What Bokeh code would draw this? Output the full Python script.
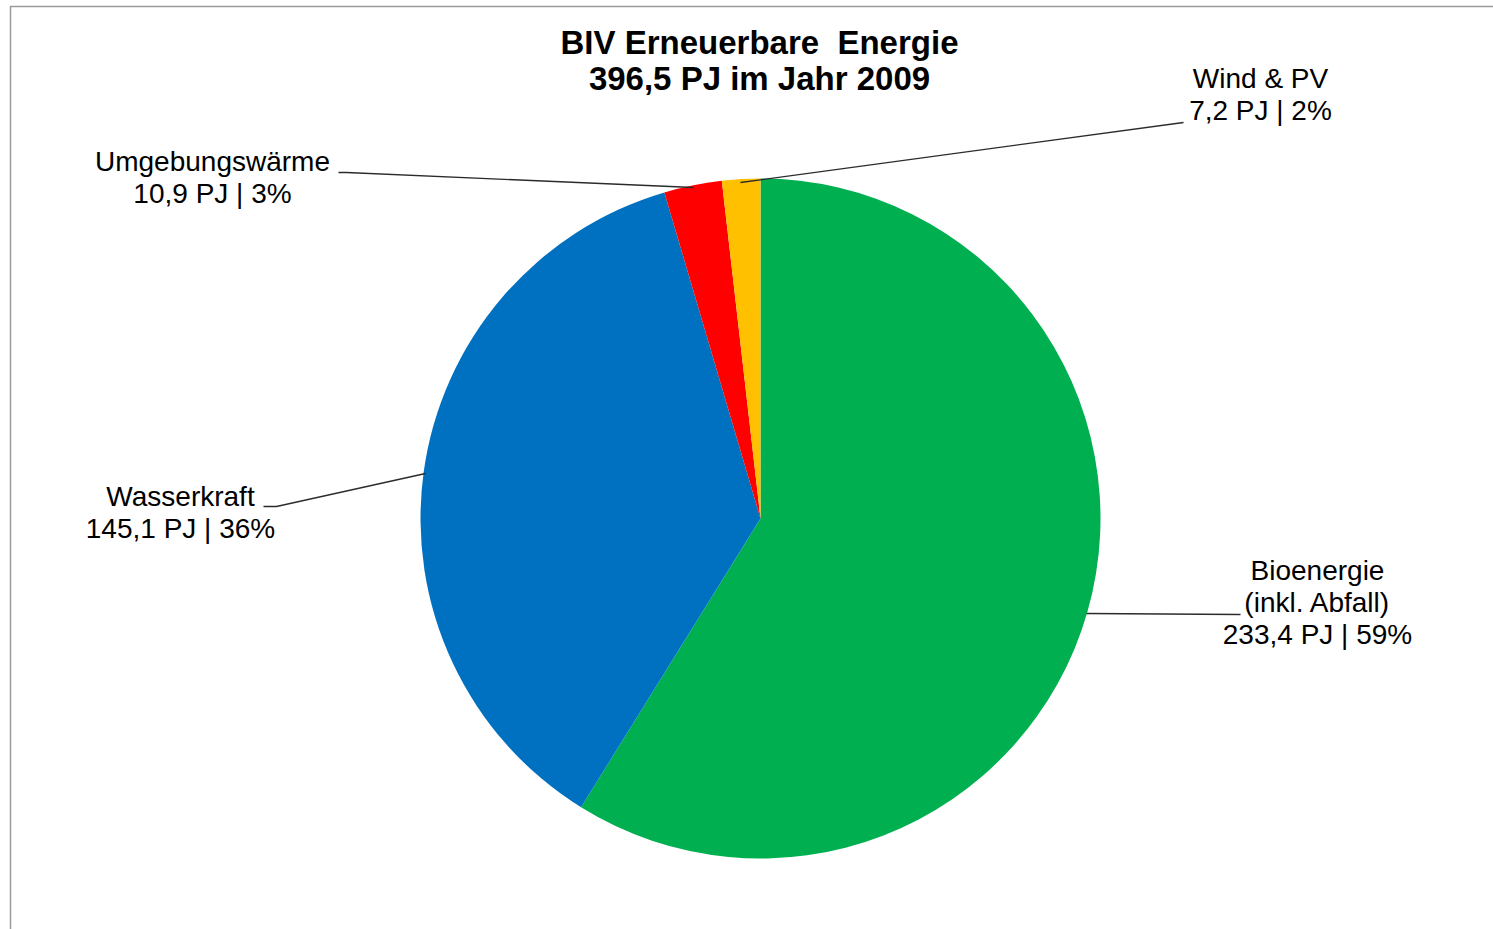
import math
from bokeh.plotting import figure
from bokeh.models import Range1d, ColumnDataSource
from bokeh.core.properties import value
from bokeh.embed import file_html
from bokeh.resources import INLINE

# Renewable energy by source, Austria 2009 (PJ)
categories = ["Bioenergie\n(inkl. Abfall)", "Wasserkraft", "Umgebungswärme", "Wind & PV"]
energy_pj = [233.4, 145.1, 10.9, 7.2]
energy_text = ["233,4", "145,1", "10,9", "7,2"]
share_pct = [59, 36, 3, 2]
colors = ["#00B050", "#0070C0", "#FF0000", "#FFC000"]

title_lines = ["BIV Erneuerbare\u00a0 Energie", "396,5 PJ im Jahr 2009"]

W, H = 1493, 929
FONT = "Liberation Sans"


def Y(py):
    # convert a pixel row (from the top) into the plot's y coordinate
    return H - py


p = figure(width=W, height=H, output_backend="svg", toolbar_location=None,
           x_range=Range1d(0, W), y_range=Range1d(0, H), min_border=0)
p.axis.visible = False
p.grid.visible = False
p.outline_line_color = None
p.background_fill_color = "white"
p.border_fill_color = "white"

# chart frame (top and left edges visible)
p.line([10, 10, W + 5], [Y(H + 5), Y(6), Y(6)], line_color="#9a9a9a", line_width=1.5)

# pie slices, clockwise from 12 o'clock
total = sum(energy_pj)
starts, ends = [], []
acc = 0.0
for v in energy_pj:
    starts.append(math.pi / 2 - 2 * math.pi * acc / total)
    acc += v
    ends.append(math.pi / 2 - 2 * math.pi * acc / total)

cx, cy, r = 760, Y(518), 340
src = ColumnDataSource(dict(start=starts, end=ends, color=colors))
p.wedge(x=cx, y=cy, radius=r, start_angle="start", end_angle="end",
        direction="clock", fill_color="color", line_color=None, source=src)

# leader lines
leaders = [
    ([1086, 1240], [613, 614]),
    ([263, 276, 425], [506, 506, 473]),
    ([338, 346, 693], [172, 172, 187]),
    ([740, 1183], [182, 122]),
]
for xs, ys in leaders:
    p.line(xs, [Y(v) for v in ys], line_color="#2b2b2b", line_width=1.3)

# data labels: name lines followed by "value PJ | share%"
label_pos = [(1317, 570), (180, 496), (212, 161), (1260, 78)]
for name, txt, pct, (lx, base) in zip(categories, energy_text, share_pct, label_pos):
    lines = name.split("\n") + [f"{txt} PJ | {pct}%"]
    for i, line in enumerate(lines):
        p.text(x=[lx], y=[Y(base + 32 * i)], text=[line],
               text_font=value(FONT), text_font_size="28px",
               text_align="center", text_baseline="alphabetic", text_color="black")

# title
for i, line in enumerate(title_lines):
    p.text(x=[759], y=[Y(42 + 36 * i)], text=[line],
           text_font=value(FONT), text_font_size="33px", text_font_style="bold",
           text_align="center", text_baseline="alphabetic", text_color="black")

open("out.html", "w").write(file_html(p, INLINE))
